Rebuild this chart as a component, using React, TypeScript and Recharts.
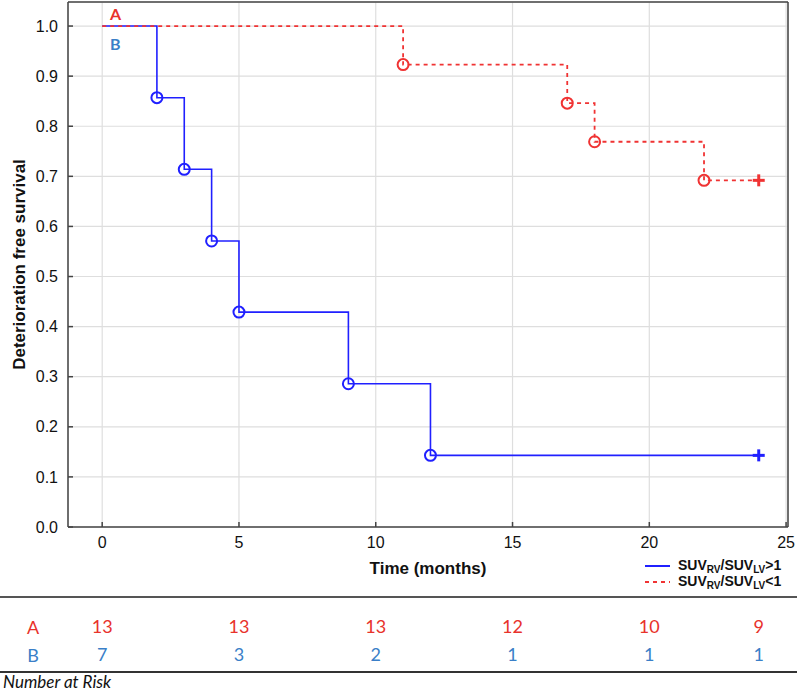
import { LineChart, Line, XAxis, YAxis, CartesianGrid } from "recharts";

const blueTimes = [0, 2, 3, 4, 5, 9, 12, 24];
const blueSurvival = [1.0, 0.857, 0.714, 0.571, 0.429, 0.286, 0.143, 0.143];
const redTimes = [0, 11, 17, 18, 22, 24];
const redSurvival = [1.0, 0.923, 0.846, 0.769, 0.692, 0.692];

const xTicks = [0, 5, 10, 15, 20, 25];
const yTicks = [0, 0.1, 0.2, 0.3, 0.4, 0.5, 0.6, 0.7, 0.8, 0.9, 1.0];

const riskTimes = [0, 5, 10, 15, 20, 24];
const riskA = [13, 13, 13, 12, 10, 9];
const riskB = [7, 3, 2, 1, 1, 1];

// odd entries are subscripts
const blueName = ["SUV", "RV", "/SUV", "LV", ">1"];
const redName = ["SUV", "RV", "/SUV", "LV", "<1"];

const BLUE = "#2020ff";
const RED = "#f03333";
const RISK_RED = "#e8322b";
const RISK_BLUE = "#3a7fc8";
const AXIS = "#444";
const X_DOMAIN = [-1.25, 25.07];
const Y_DOMAIN = [0, 1.048];

const blueData = blueTimes.map((t, i) => ({ t, s: blueSurvival[i] }));
const redData = redTimes.map((t, i) => ({ t, s: redSurvival[i] }));

function makeDot(color: string, count: number) {
  return (props: any) => {
    const { cx, cy, index } = props;
    if (index === 0 || cx == null) return <g key={`d${index}`} />;
    if (index === count - 1) {
      return (
        <g key={`d${index}`} stroke={color} strokeWidth={3}>
          <line x1={cx - 6} y1={cy} x2={cx + 6} y2={cy} />
          <line x1={cx} y1={cy - 6} x2={cx} y2={cy + 6} />
        </g>
      );
    }
    return <circle key={`d${index}`} cx={cx} cy={cy} r={5.5} fill="none" stroke={color} strokeWidth={2} />;
  };
}

function SeriesName({ parts }: { parts: string[] }) {
  return (
    <span>
      {parts.map((p, i) =>
        i % 2 === 1 ? (
          <sub key={i} style={{ fontSize: 10, verticalAlign: "-3px", lineHeight: 1 }}>{p}</sub>
        ) : (
          <span key={i}>{p}</span>
        )
      )}
    </span>
  );
}

function LegendBox() {
  const rows = [
    { parts: blueName, color: BLUE, dash: undefined, width: 2 },
    { parts: redName, color: RED, dash: "4 4", width: 1.8 },
  ];
  return (
    <div style={{ position: "absolute", left: 643, top: 558, fontFamily: "Liberation Sans, Arial, sans-serif", fontWeight: 700, fontSize: 14, color: "#111", lineHeight: 1 }}>
      {rows.map((r, i) => (
        <div key={i} style={{ display: "flex", alignItems: "center", height: 16 }}>
          <svg width={35} height={10}>
            <line x1={2} y1={5} x2={27} y2={5} stroke={r.color} strokeWidth={r.width} strokeDasharray={r.dash} />
          </svg>
          <SeriesName parts={r.parts} />
        </div>
      ))}
    </div>
  );
}

function YTitle(props: any) {
  const vb = props.viewBox;
  const cy = vb.y + vb.height / 2;
  return (
    <text x={19} y={cy} transform={`rotate(-90, 19, ${cy})`} textAnchor="middle" dominantBaseline="central"
      fontFamily="Liberation Sans, Arial, sans-serif" fontWeight={700} fontSize={17} fill="#111">
      Deterioration free survival
    </text>
  );
}

function RowLabel(text: string, color: string) {
  return (props: any) => {
    const vb = props.viewBox;
    return (
      <text x={33} y={vb.y + 34} textAnchor="middle" fontFamily="Lato, sans-serif" fontSize={18} fill={color}>
        {text}
      </text>
    );
  };
}

export default function App() {
  return (
    <div style={{ position: "absolute", left: 0, top: 0, width: 797, height: 691, background: "#fff" }}>
      <LineChart width={797} height={691} margin={{ top: 1, right: 8, bottom: 35, left: 0 }}>
        <CartesianGrid stroke="#dedede" strokeWidth={1.2} />
        <XAxis type="number" dataKey="t" domain={X_DOMAIN} ticks={xTicks} interval={0} allowDataOverflow
          height={73} tickSize={-5} tickMargin={15} stroke={AXIS} strokeWidth={1.5}
          tick={{ fill: "#111", fontSize: 16, fontFamily: "Liberation Sans, Arial, sans-serif" }}
          label={{ value: "Time (months)", position: "insideTop", offset: 35, fill: "#111", fontSize: 17, fontWeight: 700, fontFamily: "Liberation Sans, Arial, sans-serif" }} />
        <XAxis xAxisId="riskA" type="number" dataKey="t" domain={X_DOMAIN} ticks={riskTimes} interval={0}
          allowDataOverflow height={28} axisLine={false} tickLine={false} tickSize={0} tickMargin={20}
          tickFormatter={(v: number) => String(riskA[riskTimes.indexOf(v)])}
          tick={{ fill: RISK_RED, fontSize: 18, fontFamily: "Lato, sans-serif" }}
          label={RowLabel("A", RISK_RED)} />
        <XAxis xAxisId="riskB" type="number" dataKey="t" domain={X_DOMAIN} ticks={riskTimes} interval={0}
          allowDataOverflow height={28} axisLine={false} tickLine={false} tickSize={0} tickMargin={20}
          tickFormatter={(v: number) => String(riskB[riskTimes.indexOf(v)])}
          tick={{ fill: RISK_BLUE, fontSize: 18, fontFamily: "Lato, sans-serif" }}
          label={RowLabel("B", RISK_BLUE)} />
        <XAxis xAxisId="top" orientation="top" type="number" dataKey="t" domain={X_DOMAIN} ticks={xTicks}
          interval={0} allowDataOverflow height={1} tickSize={-5} tick={false} stroke={AXIS} strokeWidth={1.5} />
        <YAxis type="number" domain={Y_DOMAIN} ticks={yTicks} interval={0} allowDataOverflow width={68}
          tickSize={-5} tickMargin={15} stroke={AXIS} strokeWidth={1.5}
          tickFormatter={(v: number) => v.toFixed(1)}
          tick={{ fill: "#111", fontSize: 16, fontFamily: "Liberation Sans, Arial, sans-serif" }}
          label={<YTitle />} />
        <YAxis yAxisId="right" orientation="right" type="number" domain={Y_DOMAIN} ticks={yTicks} interval={0}
          allowDataOverflow width={1} tickSize={-5} tick={false} stroke={AXIS} strokeWidth={1.5} />
        <Line data={blueData} dataKey="s" name="B" type="stepAfter" stroke={BLUE} strokeWidth={1.6}
          dot={makeDot(BLUE, blueData.length)} activeDot={false} isAnimationActive={false} />
        <Line data={redData} dataKey="s" name="A" type="stepAfter" stroke={RED} strokeWidth={1.8}
          strokeDasharray="4 4" dot={makeDot(RED, redData.length)} activeDot={false} isAnimationActive={false} />
      </LineChart>
      <LegendBox />
      <div style={{ position: "absolute", left: 110, top: 4, color: RISK_RED, fontFamily: "Lato, sans-serif", fontWeight: 700, fontSize: 16 }}>A</div>
      <div style={{ position: "absolute", left: 110, top: 34, color: RISK_BLUE, fontFamily: "Lato, sans-serif", fontWeight: 700, fontSize: 16 }}>B</div>
      <div style={{ position: "absolute", left: 0, top: 596, width: 797, height: 2, background: "#555" }} />
      <div style={{ position: "absolute", left: 0, top: 671, width: 797, height: 1.5, background: "#333" }} />
      <div style={{ position: "absolute", left: 3, top: 673, lineHeight: 1, fontFamily: "Lato, sans-serif", fontStyle: "italic", fontSize: 17, color: "#111" }}>Number at Risk</div>
    </div>
  );
}
